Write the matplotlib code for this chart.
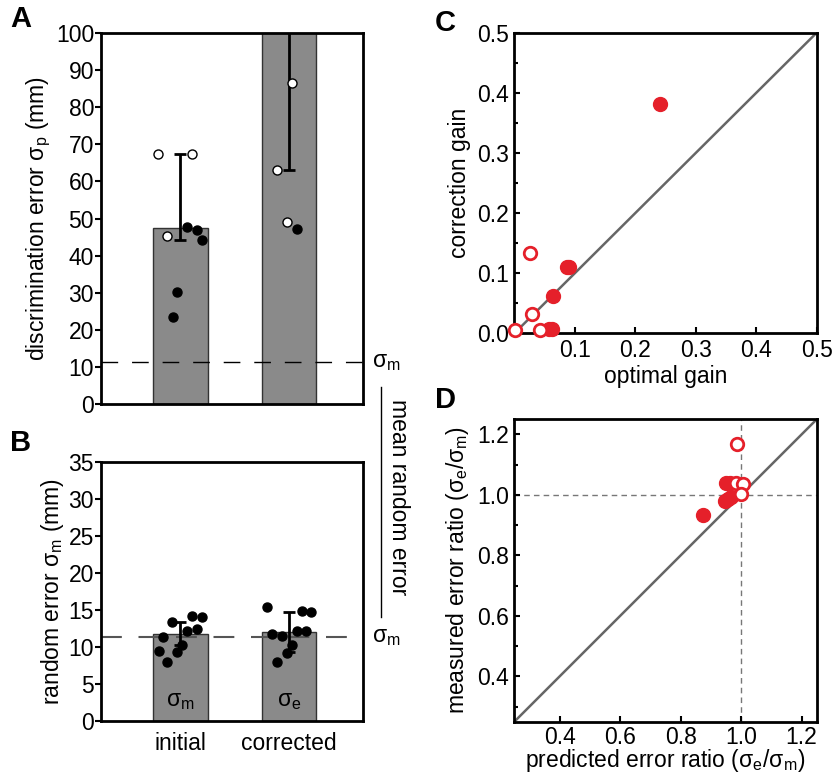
import matplotlib

matplotlib.use("Agg")
import matplotlib.pyplot as plt  # noqa: E402
from matplotlib.lines import Line2D  # noqa: E402
from matplotlib.transforms import blended_transform_factory  # noqa: E402

plt.rcParams["font.family"] = ["Liberation Sans", "DejaVu Sans"]
plt.rcParams["mathtext.fontset"] = "custom"
plt.rcParams["mathtext.rm"] = "Liberation Sans"
plt.rcParams["mathtext.it"] = "Liberation Sans"
plt.rcParams["font.size"] = 16.5

# ---- data ----
groups = ["initial", "corrected"]
bar_pos = [1, 2]

# A: discrimination error
a_means = [47.5, 110.0]
a_err_low = [44.3, 63.0]
a_err_high = [67.3, 140.0]
a_open_x = [0.79, 1.11, 0.88, 2.03, 1.89, 1.98]
a_open_y = [67.3, 67.3, 45.2, 86.5, 63.2, 49.1]
a_fill_x = [1.064, 1.156, 1.20, 0.97, 0.93, 2.07]
a_fill_y = [47.8, 47.0, 44.3, 30.1, 23.5, 47.1]

# B: random error
b_means = [11.8, 12.0]
b_err = [1.5, 2.7]
b_dots_x = [0.927, 1.11, 1.20, 1.064, 1.156, 0.844, 1.018, 0.80, 0.972, 0.88,
            1.795, 2.117, 2.205, 1.847, 1.936, 2.07, 2.16, 2.025, 1.98, 1.89]
b_dots_y = [13.3, 14.2, 14.1, 12.2, 12.4, 11.3, 10.3, 9.5, 9.35, 8.0,
            15.4, 14.8, 14.7, 11.7, 11.5, 12.1, 12.2, 10.2, 9.2, 7.9]
b_bar_text = [r"σ$_m$", r"σ$_e$"]
sigma_m = 11.35

# C: correction gain vs optimal gain
c_fill_x = [0.241, 0.0866, 0.091, 0.0645, 0.058, 0.062]
c_fill_y = [0.382, 0.110, 0.111, 0.062, 0.008, 0.008]
c_open_x = [0.026, 0.030, 0.0425, 0.001]
c_open_y = [0.134, 0.032, 0.0055, 0.0055]

# D: measured vs predicted error ratio
d_fill_x = [0.873, 0.951, 0.962, 0.948, 0.958, 0.968]
d_fill_y = [0.932, 1.040, 1.040, 0.980, 0.986, 0.993]
d_open_x = [0.988, 0.983, 1.005, 1.001]
d_open_y = [1.170, 1.040, 1.037, 1.004]

RED = "#e5202a"
BAR = "#8a8a8a"

fig = plt.figure(figsize=(8.32, 7.77), dpi=100)
axA = fig.add_axes([0.1214, 0.48, 0.3149, 0.4775])
axB = fig.add_axes([0.1214, 0.0721, 0.3149, 0.3337])
axC = fig.add_axes([0.6182, 0.571, 0.3634, 0.3869])
axD = fig.add_axes([0.6182, 0.0712, 0.3634, 0.3891])

for ax in (axA, axB, axC, axD):
    for s in ax.spines.values():
        s.set_linewidth(2.0)

# ---- panel A ----
axA.bar(bar_pos, a_means, width=0.5, color=BAR, edgecolor="#333333", linewidth=1.0, zorder=1)
for x, m, lo, hi in zip(bar_pos, a_means, a_err_low, a_err_high):
    axA.errorbar([x], [m], yerr=[[m - lo], [hi - m]], fmt="none", ecolor="black",
                 elinewidth=2, capsize=4, capthick=2, zorder=3)
axA.axhline(sigma_m, color="black", lw=1.0, dashes=(12, 10), zorder=2)
axA.plot(a_open_x, a_open_y, "o", mfc="white", mec="black", mew=1.0, ms=6.5, zorder=4)
axA.plot(a_fill_x, a_fill_y, "o", color="black", ms=6.5, zorder=4)
axA.set_xlim(0.27, 2.68)
axA.set_ylim(0, 100)
axA.set_yticks(range(0, 101, 10))
axA.set_xticks([])
axA.tick_params(axis="y", direction="out", length=4, width=1.5, pad=1)
axA.set_ylabel(r"discrimination error σ$_p$ (mm)", labelpad=2)

# ---- panel B ----
axB.bar(bar_pos, b_means, width=0.5, color=BAR, edgecolor="#333333", linewidth=1.0, zorder=1)
axB.errorbar(bar_pos, b_means, yerr=b_err, fmt="none", ecolor="black",
             elinewidth=2, capsize=4, capthick=2, zorder=3)
axB.axhline(sigma_m, color="#555555", lw=1.5, dashes=(10, 8), zorder=2)
axB.plot(b_dots_x, b_dots_y, "o", color="black", ms=6.5, zorder=4)
for x, t in zip(bar_pos, b_bar_text):
    axB.text(x, 2.8, t, ha="center", va="center")
axB.set_xlim(0.27, 2.68)
axB.set_ylim(0, 35)
axB.set_yticks(range(0, 36, 5))
axB.set_xticks(bar_pos)
axB.set_xticklabels(groups)
axB.tick_params(axis="y", direction="out", length=4, width=1.5, pad=1)
axB.tick_params(axis="x", length=0, pad=8)
axB.set_ylabel(r"random error σ$_m$ (mm)", labelpad=2)

for ax in (axA, axB):
    tr = blended_transform_factory(ax.transAxes, ax.transData)
    ax.text(1.035, sigma_m, r"σ$_m$", transform=tr, ha="left", va="center")

fig.add_artist(Line2D([0.458, 0.458], [0.502, 0.206], transform=fig.transFigure,
                      color="black", lw=1.0))
fig.text(0.479, 0.36, "mean random error", rotation=-90, ha="center", va="center")

# ---- panel C ----
axC.plot([0, 0.5], [0, 0.5], color="#666666", lw=1.8, zorder=1)
axC.plot(c_fill_x, c_fill_y, "o", color=RED, ms=10, zorder=3, clip_on=False)
axC.plot(c_open_x, c_open_y, "o", mfc="white", mec=RED, mew=2.0, ms=9, zorder=4, clip_on=False)
axC.set_xlim(0, 0.5)
axC.set_ylim(0, 0.5)
axC.set_xticks([0.1, 0.2, 0.3, 0.4, 0.5])
axC.set_yticks([0, 0.1, 0.2, 0.3, 0.4, 0.5])
axC.set_yticks([0.05, 0.15, 0.25, 0.35, 0.45], minor=True)
axC.set_xticklabels(["0.1", "0.2", "0.3", "0.4", "0.5"])
axC.set_yticklabels(["0.0", "0.1", "0.2", "0.3", "0.4", "0.5"])
axC.tick_params(direction="in", length=4, width=1.5, pad=4)
axC.tick_params(which="minor", direction="in", length=3, width=1.5)
axC.set_xlabel("optimal gain", labelpad=2)
axC.set_ylabel("correction gain", labelpad=4)

# ---- panel D ----
axD.plot([0.25, 1.25], [0.25, 1.25], color="#666666", lw=1.8, zorder=1)
axD.axvline(1.0, color="#777777", lw=1.0, dashes=(4, 3), zorder=1)
axD.axhline(1.0, color="#777777", lw=1.0, dashes=(4, 3), zorder=1)
axD.plot(d_fill_x, d_fill_y, "o", color=RED, ms=10, zorder=3)
axD.plot(d_open_x, d_open_y, "o", mfc="white", mec=RED, mew=2.0, ms=9, zorder=4)
axD.set_xlim(0.25, 1.25)
axD.set_ylim(0.25, 1.25)
axD.set_xticks([0.4, 0.6, 0.8, 1.0, 1.2])
axD.set_yticks([0.4, 0.6, 0.8, 1.0, 1.2])
axD.set_yticks([0.3, 0.5, 0.7, 0.9, 1.1], minor=True)
axD.tick_params(direction="in", length=4, width=1.5, pad=4)
axD.tick_params(axis="x", pad=3)
axD.tick_params(which="minor", direction="in", length=3, width=1.5)
axD.set_xlabel(r"predicted error ratio (σ$_e$/σ$_m$)", labelpad=-1)
axD.set_ylabel(r"measured error ratio (σ$_e$/σ$_m$)", labelpad=4)

# ---- panel letters ----
for x, y, s in [(0.012, 0.975, "A"), (0.012, 0.43, "B"), (0.523, 0.97, "C"), (0.523, 0.485, "D")]:
    fig.text(x, y, s, fontsize=21, fontweight="bold", ha="left", va="center")

fig.savefig("out.png", dpi=100)
